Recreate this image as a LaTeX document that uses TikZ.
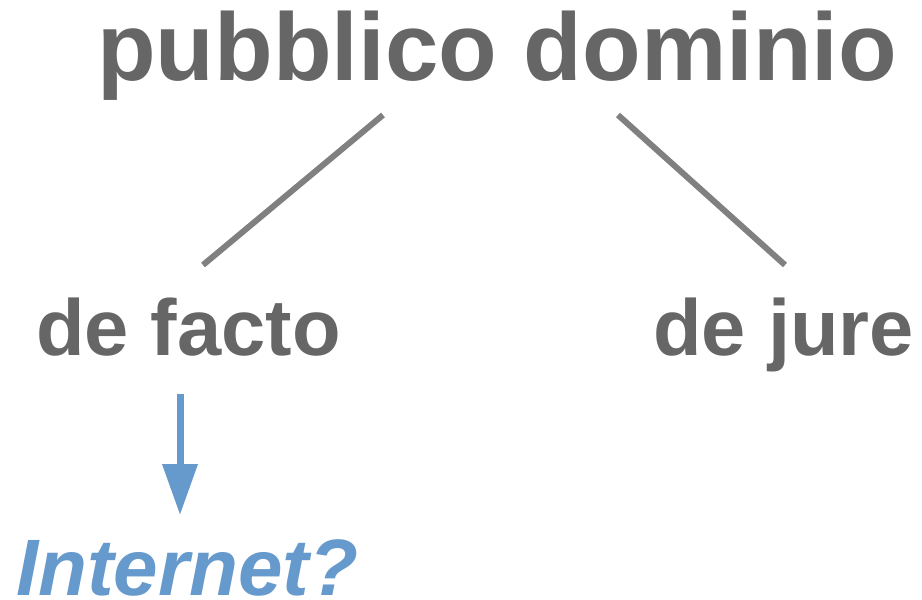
\documentclass[tikz,border=0pt]{standalone}
\usepackage{fontspec}
\setmainfont{Liberation Sans}
\usetikzlibrary{arrows.meta,positioning,calc}

\definecolor{testo}{HTML}{666666}
\definecolor{ramo}{HTML}{808080}
\definecolor{azzurro}{HTML}{6699CC}

\tikzset{
    titolo/.style={inner sep=0pt,anchor=base west,text=testo,font=\fontsize{96}{96}\selectfont\bfseries},
    voce/.style={inner sep=0pt,anchor=base west,text=testo,font=\fontsize{79.5}{80}\selectfont\bfseries},
    domanda/.style={inner sep=0pt,anchor=base west,text=azzurro,font=\fontsize{80}{80}\selectfont\bfseries\itshape},
    ramo/.style={draw=ramo,line width=6pt},
    freccia/.style={draw=azzurro,line width=7pt,-{Triangle[length=51pt,width=34pt]}}
}

\begin{document}
\begin{tikzpicture}[x=1pt,y=-1pt]
        \useasboundingbox (0,0) rectangle (922,600);
        \node[titolo] (pd) at (97,80) {pubblico dominio};
        \node[voce] (facto) at (36,355) {de facto};
        \node[voce] (jure) at (653,355) {de jure};
        \node[domanda] (net) at (16,595) {Internet?};
        % estremi dei rami
        \coordinate (r1) at (383,115);
        \coordinate (r2) at (618,115);
        \coordinate (f1) at (203,265);
        \coordinate (j1) at (785,265);
        \coordinate (a1) at (180,394);
        \coordinate (a2) at (180,515);
        \draw[ramo] (r1) -- (f1);
        \draw[ramo] (r2) -- (j1);
        \draw[freccia] (a1) -- (a2);
\end{tikzpicture}
\end{document}
